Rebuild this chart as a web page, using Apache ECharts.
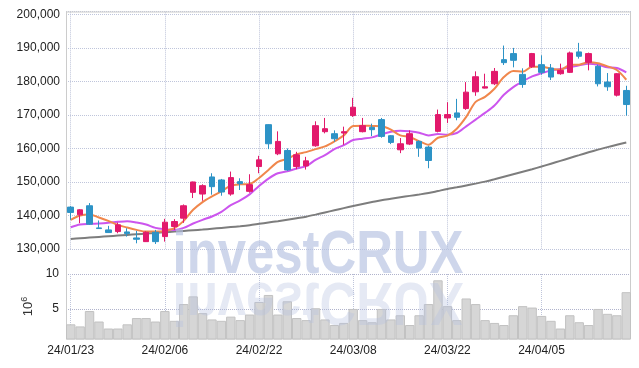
<!DOCTYPE html>
<html><head><meta charset="utf-8">
<script src="https://cdn.jsdelivr.net/npm/echarts@6/dist/echarts.min.js"></script>
<style>html,body{margin:0;padding:0;background:#fff}#c{width:639px;height:368px}</style>
</head><body><div id="c"></div>
<script>
const dates = ['24/01/23','24/01/24','24/01/25','24/01/26','24/01/29','24/01/30','24/01/31','24/02/01','24/02/02','24/02/05',
'24/02/06','24/02/07','24/02/08','24/02/13','24/02/14','24/02/15','24/02/16','24/02/19','24/02/20','24/02/21',
'24/02/22','24/02/23','24/02/26','24/02/27','24/02/28','24/02/29','24/03/04','24/03/05','24/03/06','24/03/07',
'24/03/08','24/03/11','24/03/12','24/03/13','24/03/14','24/03/15','24/03/18','24/03/19','24/03/20','24/03/21',
'24/03/22','24/03/25','24/03/26','24/03/27','24/03/28','24/03/29','24/04/01','24/04/02','24/04/03','24/04/04',
'24/04/05','24/04/08','24/04/09','24/04/11','24/04/12','24/04/15','24/04/16','24/04/17','24/04/18','24/04/19'];

const opens = [142500,140200,142900,136300,135700,135200,135100,133300,132200,135000,
133700,136700,139200,146900,146400,151500,150600,146400,150100,147200,
154600,167100,158400,159400,154600,154800,160800,165000,164400,164600,
169800,165000,166300,168600,163800,159600,161300,162100,160400,165100,
169100,170600,171900,176900,178000,179300,186500,188300,182100,184400,
185000,184000,182300,182700,188800,185700,184500,179800,175900,177300];
const closes = [140900,141700,137400,136100,134900,137200,134600,132900,135000,132200,
138000,138200,142900,150000,148900,148600,147000,151300,149500,149200,
156600,161400,162100,153600,158100,156300,166800,165900,162900,165000,
172300,166800,165600,163600,161800,161400,164400,160100,156400,170100,
170100,169300,176800,181400,178400,183000,185600,186300,179100,188300,
182700,181300,183300,188500,187500,188300,179300,178400,182300,173100];
const lows = [138700,137700,137200,136000,134800,134700,133700,131700,132100,131500,
132200,135700,137800,145200,144400,146200,145900,145900,147600,146800,
152600,159800,158000,153300,153800,153700,160500,164500,162000,161100,
169400,164800,163700,163200,161300,158600,161000,157500,154100,164800,
167600,168400,171500,175700,177900,178900,184900,184200,178100,184000,
182000,180400,182000,182500,186800,183300,178500,177200,175500,169800];
const highs = [142800,141900,143700,138500,136900,137900,136200,135400,135300,135700,
139000,138900,143300,150100,149300,152600,150900,153100,151100,152300,
157800,167200,165100,160000,159000,157500,168100,169100,165400,166500,
175100,169100,167400,169100,164000,163100,165400,162400,160800,171600,
173800,174800,179800,183000,182300,184000,190700,190000,183900,188500,
187800,185200,185300,188900,191500,188600,185000,182500,182500,178700];

const ma5 = [138700,140000,140300,139400,138400,137200,136400,135700,135200,135200,
135400,136200,138400,141700,144000,145700,147200,148900,149300,149400,
151200,153600,156000,156900,158300,158900,159800,160600,162100,163900,
166700,166800,166700,166600,165600,163900,163400,162200,161100,163200,
163800,165900,169400,173900,175400,177800,181300,183100,182900,184400,
184400,183800,183500,184900,185000,185700,185400,184500,183400,180500];
const ma20 = [136500,137300,137500,137600,137800,138100,138300,137900,137300,136300,
135900,135700,136300,137600,138700,139700,141100,143100,144500,146300,
148800,151000,152600,153200,154000,154700,156600,158000,159800,161000,
162500,162900,163300,164200,165000,165300,165100,164700,163900,164300,
164100,164600,166600,168600,170600,172800,176000,178300,180000,181500,
182400,183300,183700,184200,184800,185300,185000,184200,184000,182700];
const ma60 = [133000,133200,133400,133600,133800,134000,134200,134400,134600,134800,
135000,135200,135400,135600,135800,136050,136300,136550,136800,137100,
137500,137900,138300,138750,139200,139650,140250,140900,141550,142200,
142850,143450,144000,144550,145000,145450,145850,146250,146700,147300,
147900,148400,148950,149500,150100,150800,151550,152300,153050,153800,
154600,155450,156300,157150,158000,158850,159650,160400,161100,161800];
const volumes = [2.8,2.5,4.7,3.2,2.2,2.2,2.8,3.7,3.7,3.2,
4.7,3.3,5.7,6.8,4.4,3.5,3.3,3.9,3.4,4.2,
6.0,7.0,4.2,6.1,3.7,3.4,5.1,3.5,2.7,3.0,
5.0,3.4,3.1,5.0,3.5,4.1,2.7,4.1,5.7,9.1,
5.4,3.4,6.5,5.7,3.4,3.0,2.7,4.1,5.4,5.2,
4.0,3.3,2.2,4.1,3.1,2.7,5.0,4.3,4.1,7.4];
const volumeTicks = [5, 10];

const UP = '#e2196c', DOWN = '#2d93c6';
const FONT = '"Liberation Sans", Arial, sans-serif';
const candles = dates.map((d, i) => [opens[i], closes[i], lows[i], highs[i]]);
const gridLine = { show: true, lineStyle: { color: '#bfc5db', type: 'dotted', width: 1 } };
const vSplit = { show: true, interval: 9, alignWithLabel: true, lineStyle: { color: '#bfc5db', type: 'dotted', width: 1 } };

const chart = echarts.init(document.getElementById('c'), null, { renderer: 'canvas' });
chart.setOption({
  animation: false,
  backgroundColor: '#fff',
  grid: [
    { left: 66, right: 8, top: 11.7, height: 237.3 },
    { left: 66, right: 8, top: 274, height: 65 }
  ],
  xAxis: [
    { type: 'category', gridIndex: 0, data: dates, boundaryGap: true,
      axisLine: { show: false }, axisTick: { show: false, interval: 9, alignWithLabel: true },
      axisLabel: { show: false, interval: 9 }, splitLine: vSplit },
    { type: 'category', gridIndex: 1, data: dates, boundaryGap: true,
      axisLine: { show: false }, axisTick: { show: false, interval: 9, alignWithLabel: true },
      axisLabel: { interval: 9, color: '#222', fontFamily: FONT, fontSize: 12, margin: 6 },
      splitLine: vSplit }
  ],
  yAxis: [
    { type: 'value', gridIndex: 0, min: 130000, max: 200800, interval: 10000,
      axisLine: { show: true, lineStyle: { color: '#cfcfcf' } }, axisTick: { show: false },
      axisLabel: { color: '#222', fontFamily: FONT, fontSize: 12, margin: 6, showMaxLabel: false,
        formatter: v => v.toLocaleString('en-US') },
      splitLine: gridLine },
    { type: 'value', gridIndex: 1, min: 0.7, max: 10,
      name: '{a|10}{s|6}', nameLocation: 'middle', nameRotate: 90, nameGap: 21,
      nameTextStyle: { rich: { a: { fontFamily: FONT, fontSize: 13, color: '#333' },
                               s: { fontFamily: FONT, fontSize: 9, color: '#333', verticalAlign: 'top', padding: [0,0,8,0] } } },
      axisLine: { show: true, lineStyle: { color: '#cfcfcf' } },
      axisTick: { show: false, customValues: volumeTicks },
      axisLabel: { customValues: volumeTicks, color: '#222', fontFamily: FONT, fontSize: 12, margin: 7 },
      splitLine: { show: true, lineStyle: { color: '#b0b3cc', type: 'dotted', width: 1 } } }
  ],
  series: [
    { type: 'bar', xAxisIndex: 1, yAxisIndex: 1, data: volumes, barCategoryGap: '0%',
      itemStyle: { color: '#d6d6d6', borderColor: '#c2c2c2', borderWidth: 1 }, z: 2 },
    { type: 'line', data: ma60, symbol: 'none', smooth: 0.3, lineStyle: { color: '#7d7d7d', width: 2 }, z: 3 },
    { type: 'line', data: ma20, symbol: 'none', smooth: 0.3, lineStyle: { color: '#cc55ee', width: 2 }, z: 3 },
    { type: 'line', data: ma5, symbol: 'none', smooth: 0.3, lineStyle: { color: '#f0874c', width: 2 }, z: 3 },
    { type: 'candlestick', data: candles, barWidth: 6,
      itemStyle: { color: UP, color0: DOWN, borderColor: UP, borderColor0: DOWN, borderWidth: 1 }, z: 4 }
  ],
  graphic: [
    { type: 'rect', silent: true, z: 1, shape: { x: 66.5, y: 12, width: 564, height: 327 },
      style: { fill: 'none', stroke: '#cccccc', lineWidth: 1 } },
    { type: 'text', silent: true, z: 100, x: 318, y: 287, scaleX: 0.82,
      style: { text: 'investCRUX', font: 'bold 62px "Liberation Sans", Arial, sans-serif',
               fill: 'rgba(180,192,224,0.65)', textAlign: 'center', textVerticalAlign: 'bottom' } },
    { type: 'text', silent: true, z: 100, x: 318, y: 269, scaleX: 0.82, scaleY: -1,
      style: { text: 'investCRUX', font: 'bold 62px "Liberation Sans", Arial, sans-serif',
               fill: 'rgba(180,192,224,0.35)', textAlign: 'center', textVerticalAlign: 'bottom' } }
  ]
});
</script></body></html>
